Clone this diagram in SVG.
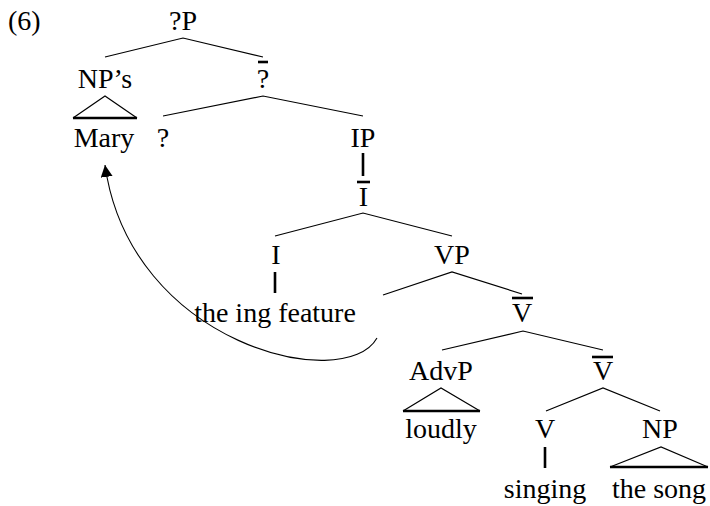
<svg xmlns="http://www.w3.org/2000/svg" width="710" height="506" viewBox="0 0 710 506">
<defs>
<style>
text{font-family:"Liberation Serif","Times New Roman",serif;font-size:28px;fill:#000;text-anchor:middle}
.e{stroke:#000;stroke-width:1.2;fill:none}
.t{stroke:#000;stroke-width:2.6;fill:none}
.tri{stroke:#000;stroke-width:1.2;fill:none}
.arc{stroke:#000;stroke-width:1.1;fill:none}
</style>
<marker id="ah" markerWidth="12" markerHeight="12" refX="10" refY="5" orient="auto" markerUnits="userSpaceOnUse" viewBox="0 0 10 10">
<path d="M0,0 L10,5 L0,10 Z" fill="#000"/>
</marker>
</defs>
<rect width="710" height="506" fill="#fff"/>
<text x="8" y="30" style="text-anchor:start">(6)</text>
<g id="connectors">
<path class="e" d="M105,57 L183,38 L263,57"/>
<path class="e" d="M163,116 L263,96 L363,116"/>
<path class="t" d="M363,153 V176"/>
<path class="e" d="M275,236 L363,213 L452,236"/>
<path class="t" d="M275,272 V293"/>
<path class="e" d="M383,295 L452,272 L522,294"/>
<path class="e" d="M442,350 L523,331 L603,350"/>
<path class="e" d="M546,411 L603,388 L660,411"/>
<path class="t" d="M545,447 V468"/>
<path class="tri" d="M73,118 L105,96 L137,118"/>
<path class="t" d="M73,118 H137"/>
<path class="tri" d="M403,411 L441,388 L480,411"/>
<path class="t" d="M403,411 H480"/>
<path class="tri" d="M610,467 L661,447 L708,467"/>
<path class="t" d="M610,467 H708"/>
<path class="arc" d="M377,338 C345,395 130,345 105,165" marker-end="url(#ah)"/>
</g>
<g id="n-qP"><text x="183" y="30">?P</text></g>
<g id="n-NPs"><text x="105" y="88">NP’s</text></g>
<g id="n-Mary"><text x="104" y="147">Mary</text></g>
<g id="n-qbar"><path class="t" d="M258,62 H268"/><text x="263" y="88">?</text></g>
<g id="n-q"><text x="163" y="147">?</text></g>
<g id="n-IP"><text x="363" y="147">IP</text></g>
<g id="n-Ibar"><path class="t" d="M357,182 H370"/><text x="363.5" y="206">I</text></g>
<g id="n-I"><text x="276" y="264">I</text></g>
<g id="n-ing"><text x="275" y="322">the ing feature</text></g>
<g id="n-VP"><text x="452" y="264">VP</text></g>
<g id="n-Vbar1"><path class="t" d="M512,298 H533"/><text x="522" y="322">V</text></g>
<g id="n-AdvP"><text x="441" y="380">AdvP</text></g>
<g id="n-loudly"><text x="441" y="438">loudly</text></g>
<g id="n-Vbar2"><path class="t" d="M592,357 H613"/><text x="603" y="380">V</text></g>
<g id="n-V"><text x="545" y="438">V</text></g>
<g id="n-singing"><text x="545" y="498">singing</text></g>
<g id="n-NP"><text x="660" y="438">NP</text></g>
<g id="n-thesong"><text x="659" y="498">the song</text></g>
</svg>
